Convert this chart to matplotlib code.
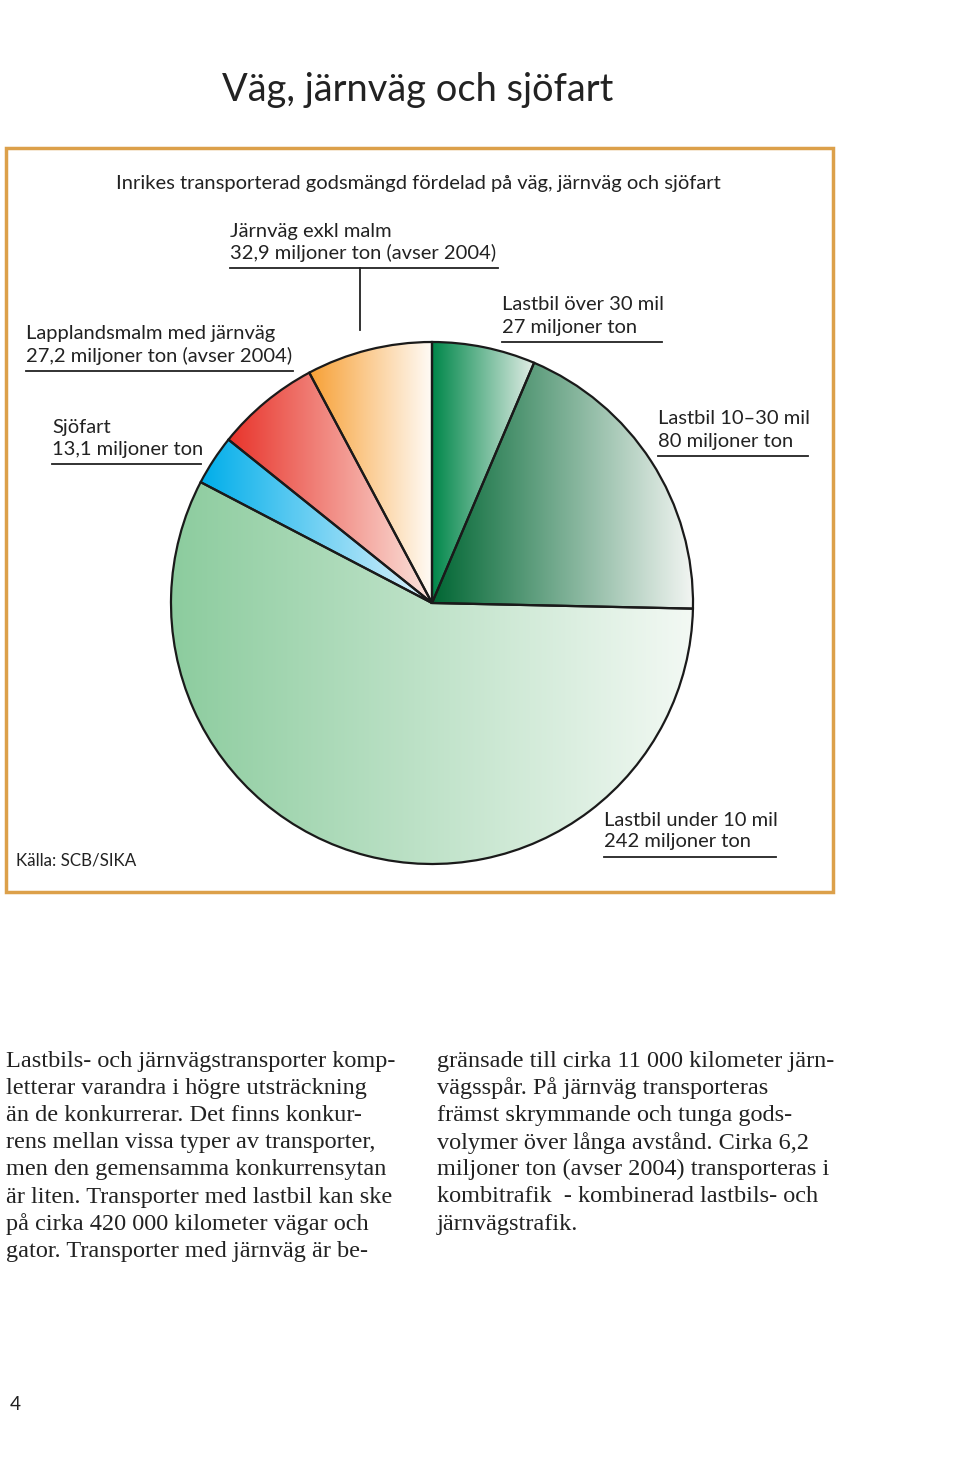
import numpy as np
import matplotlib.pyplot as plt
from matplotlib.colors import LinearSegmentedColormap
from matplotlib.patches import Rectangle

H = 1477
def Y(y):
    return H - y

# data, clockwise from the top
labels = ['Lastbil över 30 mil', 'Lastbil 10–30 mil', 'Lastbil under 10 mil',
          'Sjöfart', 'Lapplandsmalm med järnväg', 'Järnväg exkl malm']
values = [27, 80, 242, 13.1, 27.2, 32.9]
value_text = ['27 miljoner ton', '80 miljoner ton', '242 miljoner ton',
              '13,1 miljoner ton', '27,2 miljoner ton (avser 2004)',
              '32,9 miljoner ton (avser 2004)']
grads = [('#00874a', '#e3eee7'), ('#006633', '#f2f5f2'), ('#8ccc9e', '#f3f9f4'),
         ('#00aeea', '#e2f3fc'), ('#e8332a', '#fbe5de'), ('#f7a035', '#fffbf6')]

col1 = ['Lastbils- och järnvägstransporter komp-',
        'letterar varandra i högre utsträckning',
        'än de konkurrerar. Det finns konkur-',
        'rens mellan vissa typer av transporter,',
        'men den gemensamma konkurrensytan',
        'är liten. Transporter med lastbil kan ske',
        'på cirka 420 000 kilometer vägar och',
        'gator. Transporter med järnväg är be-']
col2 = ['gränsade till cirka 11 000 kilometer järn-',
        'vägsspår. På järnväg transporteras',
        'främst skrymmande och tunga gods-',
        'volymer över långa avstånd. Cirka 6,2',
        'miljoner ton (avser 2004) transporteras i',
        'kombitrafik  - kombinerad lastbils- och',
        'järnvägstrafik.']

fig = plt.figure(figsize=(9.6, 14.77), dpi=100)
ax = fig.add_axes([0, 0, 1, 1])

wedges, _ = ax.pie(values, startangle=90, counterclock=False,
                   center=(432, Y(603)), radius=261,
                   wedgeprops=dict(edgecolor='#1a1a1a', linewidth=1.6, facecolor='none'))
for w, (c0, c1) in zip(wedges, grads):
    w.set_zorder(3)
    ext = w.get_path().get_extents()
    cmap = LinearSegmentedColormap.from_list('g', [c0, c1])
    im = ax.imshow(np.linspace(0, 1, 256)[None, :], cmap=cmap, aspect='auto',
                   extent=[ext.x0, ext.x1, ext.y0, ext.y1], zorder=2)
    im.set_clip_path(w)

ax.set_xlim(0, 960)
ax.set_ylim(0, H)
ax.set_aspect('auto')
ax.axis('off')

sans = 'Lato'
pt = 0.72
lab_fs = 20.2 * pt
ink = '#222222'

ax.text(418, Y(90), 'Väg, järnväg och sjöfart', fontsize=38 * pt, family=sans,
        ha='center', va='center', color=ink)
ax.add_patch(Rectangle((6, Y(892)), 827, 744, fill=False, edgecolor='#dca04a', lw=2.5))
ax.text(116, Y(184), 'Inrikes transporterad godsmängd fördelad på väg, järnväg och sjöfart',
        fontsize=lab_fs, family=sans, va='center', color=ink)

# label positions: (x, first line y, underline x end)
lab_pos = [(502, 305, 662), (658, 419, 808), (604, 820, 776),
           (52, 427, 201), (26, 334, 293), (230, 231, 498)]
for (x, y, xe), a, b in zip(lab_pos, labels, value_text):
    ax.text(x, Y(y), a, fontsize=lab_fs, family=sans, va='center', color=ink)
    ax.text(x, Y(y + 22), b, fontsize=lab_fs, family=sans, va='center', color=ink)
    ax.plot([x, xe], [Y(y + 37), Y(y + 37)], color=ink, lw=1.3)
ax.plot([360, 360], [Y(268), Y(330)], color=ink, lw=1.3)

ax.text(16, Y(860), 'Källa: SCB/SIKA', fontsize=17 * pt, family=sans, va='center',
        color=ink)

for i, s in enumerate(col1):
    ax.text(6, Y(1061 + 27.2 * i), s, fontsize=24.3 * pt, family='Liberation Serif',
            va='center', color=ink)
for i, s in enumerate(col2):
    ax.text(437, Y(1061 + 27.2 * i), s, fontsize=24.3 * pt, family='Liberation Serif',
            va='center', color=ink)

ax.text(10, Y(1405), '4', fontsize=19 * pt, family=sans, va='center', color=ink)

fig.savefig('out.png', dpi=100)
